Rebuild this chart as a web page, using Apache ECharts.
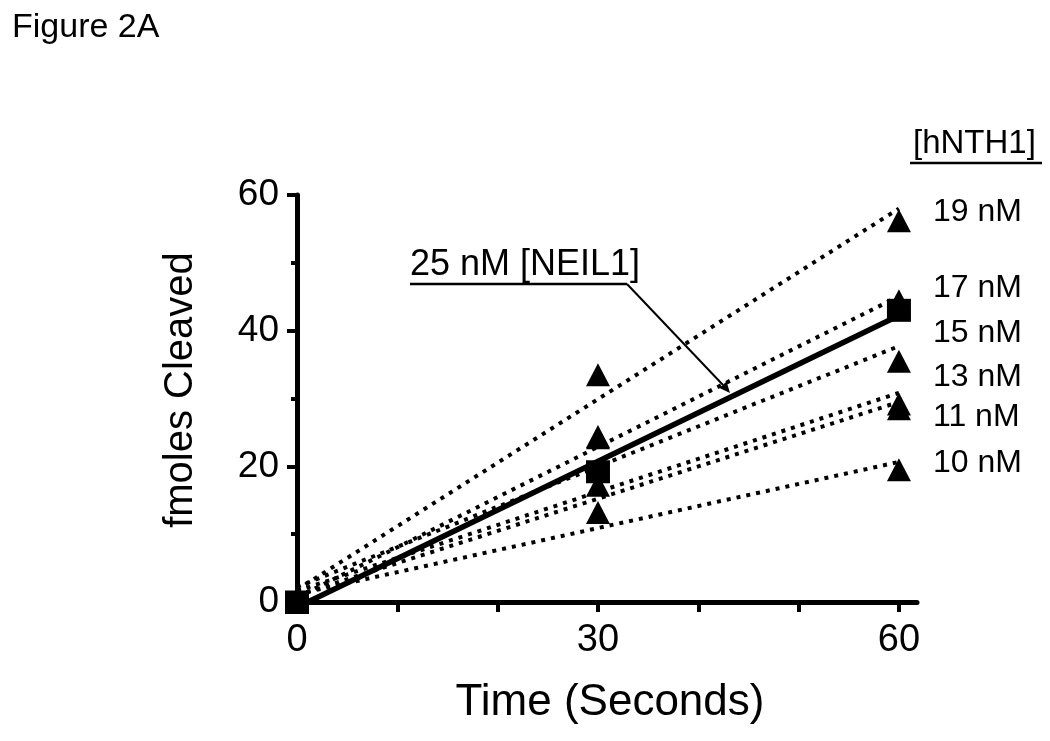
<!DOCTYPE html>
<html><head><meta charset="utf-8">
<script src="https://cdn.jsdelivr.net/npm/echarts@6/dist/echarts.min.js"></script>
<style>html,body{margin:0;padding:0;background:#fff}#c{width:1050px;height:741px}</style>
</head><body><div id="c"></div>
<script>
// ---- data ----
const times = [0, 30, 60];
const xTickValues = [0, 10, 20, 30, 40, 50, 60];
const xLabelValues = [0, 30, 60];
const hnth1Labels = ['19 nM', '17 nM', '15 nM', '13 nM', '11 nM', '10 nM'];
const hnth1_19 = [0, 33.5, 56.2];
const hnth1_17 = [0, 24.2, 44.4];
const hnth1_15 = [0, 24.4, 35.5];
const hnth1_13 = [0, 19.5, 29.2];
const hnth1_11 = [0, 17.2, 28.5];
const hnth1_10 = [0, 13.2, 19.5];
const neil1_25 = [0, 19.2, 43.0];
const neil1Label = '25 nM [NEIL1]';
const hnth1Title = '[hNTH1]';

// ---- build ----
const FONT = '"Liberation Sans", Arial, Helvetica, sans-serif';
function fitLine(xs, ys) {
  const n = xs.length;
  const mx = xs.reduce((a, b) => a + b, 0) / n;
  const my = ys.reduce((a, b) => a + b, 0) / n;
  let sxy = 0, sxx = 0;
  for (let i = 0; i < n; i++) { sxy += (xs[i] - mx) * (ys[i] - my); sxx += (xs[i] - mx) ** 2; }
  const m = sxy / sxx, b = my - m * mx;
  const x0 = xs[0], x1 = xs[n - 1];
  return [[x0, b + m * x0], [x1, b + m * x1]];
}
const pts = ys => times.map((t, i) => [t, ys[i]]);
const hnthSets = [hnth1_19, hnth1_17, hnth1_15, hnth1_13, hnth1_11, hnth1_10];

const series = [];
hnthSets.forEach((ys, k) => {
  series.push({
    type: 'line', name: hnth1Labels[k] + ' fit', data: fitLine(times, ys),
    showSymbol: false, silent: true, clip: false, z: 2,
    lineStyle: { color: '#000', width: 4, type: [4, 6], cap: 'butt', opacity: 1 }
  });
});
hnthSets.forEach((ys, k) => {
  series.push({
    type: 'scatter', name: hnth1Labels[k], data: pts(ys), clip: false, z: 3,
    symbol: 'triangle', symbolSize: [24, 23], itemStyle: { color: '#000', opacity: 1 }
  });
});
series.push({
  type: 'line', name: 'NEIL1 fit', data: fitLine(times, neil1_25),
  showSymbol: false, silent: true, clip: false, z: 4,
  lineStyle: { color: '#000', width: 5.5, type: 'solid', opacity: 1 }
});
series.push({
  type: 'scatter', name: neil1Label, data: pts(neil1_25), clip: false, z: 5,
  symbol: 'rect', symbolSize: [24, 23], itemStyle: { color: '#000', opacity: 1 }
});

const labelY = [212, 288, 333, 377, 417, 463];
const graphic = [
  { type: 'text', left: 12, top: 11, style: { text: 'Figure 2A', font: '34px ' + FONT, fill: '#000' } },
  { type: 'text', x: 913, y: 144, style: { text: hnth1Title, font: '33px ' + FONT, fill: '#000', verticalAlign: 'middle' } },
  { type: 'line', shape: { x1: 910, y1: 163, x2: 1042, y2: 163 }, style: { stroke: '#000', lineWidth: 2.5 } },
  { type: 'text', x: 410, y: 265, style: { text: neil1Label, font: '36px ' + FONT, fill: '#000', verticalAlign: 'middle' } },
  { type: 'line', shape: { x1: 410, y1: 284, x2: 627, y2: 284 }, style: { stroke: '#000', lineWidth: 2.5 } },
  { type: 'line', shape: { x1: 627, y1: 284, x2: 723, y2: 385 }, style: { stroke: '#000', lineWidth: 2 } },
  { type: 'polygon', shape: { points: [[730, 393], [719.5, 388], [726.5, 381.5]] }, style: { fill: '#000' } },
  { type: 'text', x: 181, y: 390, rotation: Math.PI / 2,
    style: { text: 'fmoles Cleaved', font: '40px ' + FONT, fill: '#000', align: 'center', verticalAlign: 'middle' } },
  { type: 'text', x: 610, y: 703,
    style: { text: 'Time (Seconds)', font: '44px ' + FONT, fill: '#000', align: 'center', verticalAlign: 'middle' } }
];
hnth1Labels.forEach((t, k) => {
  graphic.push({ type: 'text', x: 933, y: labelY[k], style: { text: t, font: '32px ' + FONT, fill: '#000', verticalAlign: 'middle' } });
});

const chart = echarts.init(document.getElementById('c'), null, { renderer: 'canvas' });
chart.setOption({
  animation: false,
  backgroundColor: '#fff',
  grid: { left: 297, top: 195, width: 620, height: 407, containLabel: false },
  xAxis: {
    type: 'value', min: 0, max: 61.8,
    axisLine: { show: true, onZero: false, lineStyle: { color: '#000', width: 5 } },
    axisTick: { show: true, customValues: xTickValues, length: 10, inside: false, lineStyle: { color: '#000', width: 4 } },
    axisLabel: { customValues: xLabelValues, color: '#000', fontFamily: FONT, fontSize: 38, margin: 20 },
    splitLine: { show: false }
  },
  yAxis: {
    type: 'value', min: 0, max: 60, interval: 20,
    axisLine: { show: true, onZero: false, lineStyle: { color: '#000', width: 5 } },
    axisTick: { show: true, length: 10, inside: false, lineStyle: { color: '#000', width: 4 } },
    minorTick: { show: true, splitNumber: 2, length: 6, lineStyle: { color: '#000', width: 4 } },
    axisLabel: { color: '#000', fontFamily: FONT, fontSize: 37, margin: 18 },
    splitLine: { show: false }
  },
  graphic: graphic,
  series: series
});
</script></body></html>
